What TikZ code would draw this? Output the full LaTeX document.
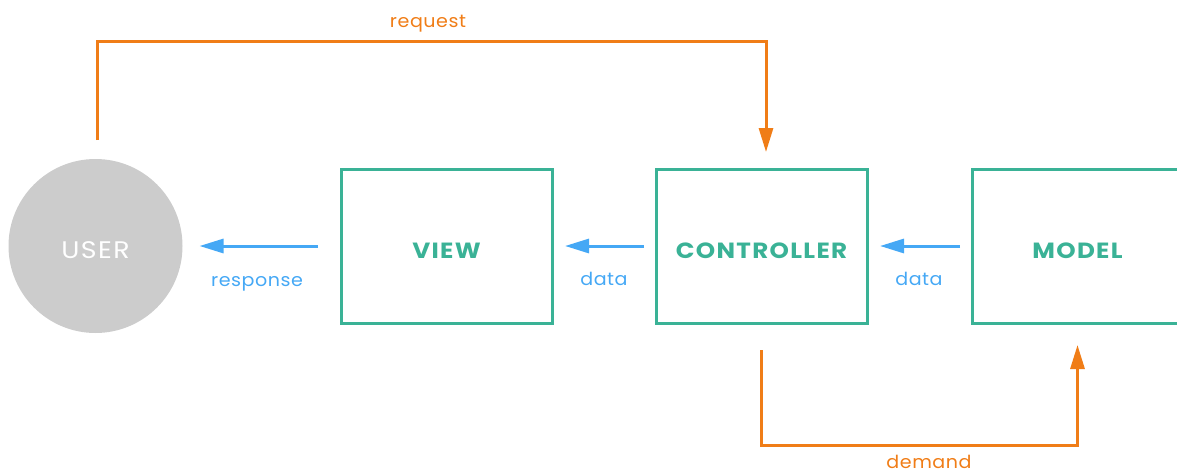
\documentclass[tikz,border=0pt]{standalone}
\usepackage{fontspec}
\setmainfont{Poppins}
\newfontfamily\boxfont[LetterSpace=6,FakeStretch=1.12]{Poppins}
\newfontfamily\lblfont[LetterSpace=3,FakeStretch=1.06]{Poppins}
\usetikzlibrary{arrows.meta}
\definecolor{teal}{HTML}{3AB296}
\definecolor{flowblue}{HTML}{45A8F5}
\definecolor{flowora}{HTML}{F07D17}
\definecolor{usergray}{HTML}{CCCCCC}
\begin{document}
\begin{tikzpicture}[x=1pt,y=-1pt,
  stagebox/.style={draw=teal,line width=3pt,minimum width=211pt,minimum height=154pt,outer sep=0pt,inner sep=0pt},
  stagetext/.style={text=teal,font=\boxfont\bfseries\fontsize{22}{22}\selectfont,inner sep=0pt},
  usernode/.style={circle,fill=usergray,minimum size=174pt,inner sep=0pt,outer sep=0pt},
  usertext/.style={text=white,font=\boxfont\fontsize{24}{24}\selectfont,inner sep=0pt},
  tip/.style={-{Triangle[length=24pt,width=14pt]}},
  blueflow/.style={draw=flowblue,line width=3pt,tip},
  oraflow/.style={draw=flowora,line width=3pt,tip},
  bluelbl/.style={text=flowblue,font=\lblfont\fontsize{18}{18}\selectfont,anchor=base,inner sep=0pt},
  oralbl/.style={text=flowora,font=\lblfont\fontsize{18}{18}\selectfont,anchor=base,inner sep=0pt}
]
\path[use as bounding box,clip] (0,0) rectangle (1177,474);

\node[usernode] (user) at (95.5,246) {};
\node[usertext,yshift=-4pt] (usert) at (user) {USER};

\node[stagebox] (view) at (446.5,246) {};
\node[stagetext,yshift=-5pt] (viewt) at (view) {VIEW};
\node[stagebox] (ctrl) at (761.5,246) {};
\node[stagetext,yshift=-5pt] (ctrlt) at (ctrl) {CONTROLLER};
\node[stagebox] (model) at (1077.5,246) {};
\node[stagetext,yshift=-5pt] (modelt) at (model) {MODEL};

\draw[blueflow,shorten <=23pt,shorten >=17pt] (view.west) -- (user.east);
\draw[blueflow,shorten <=12pt,shorten >=13pt] (ctrl.west) -- (view.east);
\draw[blueflow,shorten <=12pt,shorten >=13pt] (model.west) -- (ctrl.east);

\draw[oraflow,shorten <=19pt,shorten >=17pt] ([xshift=1.5pt]user.north) -- ++(0,-118) -| ([xshift=4.5pt]ctrl.north);
\draw[oraflow,shorten <=27pt,shorten >=22pt] (ctrl.south) -- ++(0,122) -| (model.south);

\node[oralbl] (lreq) at (428,27) {request};
\node[bluelbl] (lresp) at (257,286) {response};
\node[bluelbl] (ldata1) at (604,285) {data};
\node[bluelbl] (ldata2) at (919,285) {data};
\node[oralbl] (ldem) at (929,468) {demand};
\end{tikzpicture}
\end{document}
